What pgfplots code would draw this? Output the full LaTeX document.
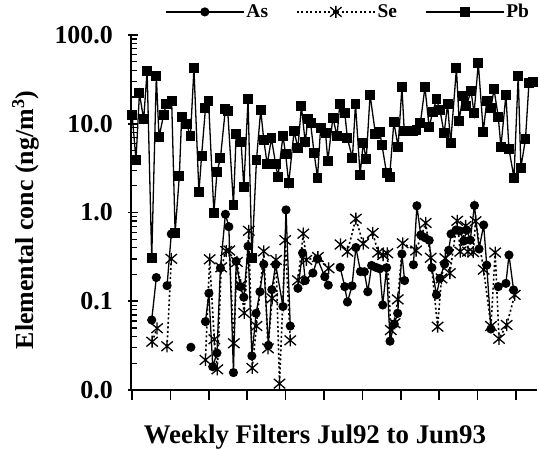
\documentclass[border=0pt]{standalone}
\usepackage{fontspec}
\setmainfont{Liberation Serif}
\usepackage{pgfplots}
\pgfplotsset{compat=1.18}
\pgfdeclareplotmark{xstar}{%
  \pgfpathmoveto{\pgfqpoint{0pt}{-\pgfplotmarksize}}%
  \pgfpathlineto{\pgfqpoint{0pt}{\pgfplotmarksize}}%
  \pgfpathmoveto{\pgfqpoint{-0.95\pgfplotmarksize}{-0.8\pgfplotmarksize}}%
  \pgfpathlineto{\pgfqpoint{0.95\pgfplotmarksize}{0.8\pgfplotmarksize}}%
  \pgfpathmoveto{\pgfqpoint{-0.95\pgfplotmarksize}{0.8\pgfplotmarksize}}%
  \pgfpathlineto{\pgfqpoint{0.95\pgfplotmarksize}{-0.8\pgfplotmarksize}}%
  \pgfusepathqstroke}
\begin{document}
\begin{tikzpicture}
\useasboundingbox (0,0) rectangle (539bp,449bp);
\begin{axis}[
  at={(131bp,59bp)}, anchor=south west,
  scale only axis, width=406bp, height=355bp,
  ymode=log, ymin=0.01, ymax=100, xmin=-0.3, xmax=105.5,
  axis x line*=bottom, axis y line*=left,
  axis line style={line width=2.2bp, black},
  xtick={0,10,...,100}, xticklabels={},
  ytick={0.01,0.1,1,10,100},
  yticklabels={0.0,0.1,1.0,10.0,100.0},
  tick align=inside,
  major tick length=10bp, minor tick length=6bp,
  every major x tick/.append style={yshift=-10bp, line width=1.6bp, black},
  every major y tick/.append style={xshift=-3bp, line width=1.6bp, black},
  every minor y tick/.append style={line width=1.2bp, black},
  yticklabel style={font=\bfseries\fontsize{26}{30}\selectfont, inner sep=0pt, xshift=-18bp},
  ylabel={Elemental conc (ng/m\textsuperscript{3})},
  ylabel style={font=\bfseries\fontsize{26}{30}\selectfont, at={(axis description cs:-0.26,0.479)}, anchor=center},
  xlabel={Weekly Filters Jul92 to Jun93},
  xlabel style={font=\bfseries\fontsize{27}{32}\selectfont, at={(axis description cs:0.453,-0.133)}, anchor=center},
  unbounded coords=jump,
  legend columns=3,
  legend style={draw=none, fill=none, inner sep=0pt, at={(axis description cs:0.0788,1.065)}, anchor=west, xshift=2bp,
    font=\bfseries\fontsize{19.5}{22}\selectfont,
    /tikz/every even column/.append style={column sep=26bp}},
  legend image code/.code={\draw[mark repeat=2,mark phase=2] plot coordinates {(0bp,0bp) (39bp,0bp) (78bp,0bp)};},
]
\addplot[black, line width=1.3bp, mark=*, mark size=3.9bp] coordinates {
(5.1,0.0615) (6.3,0.185) (7.5,nan) (9.1,0.150) (10.2,0.573) (12,nan) (15.3,0.0303) (17,nan)
(19.1,0.0589) (20.0,0.123) (21.0,0.0183) (22.1,0.0261) (23.0,0.237) (24.3,0.955) (25.2,0.692)
(26.4,0.0157) (27.1,0.282) (28.2,0.146) (29.1,0.111) (30.2,0.416) (31.2,0.0242) (32.3,0.0731)
(33.3,0.128) (34.3,0.261) (35.5,0.0319) (36.4,0.135) (37.4,0.259) (39.3,0.0873) (40.1,1.07)
(41.2,0.0526) (42,nan) (43.2,0.140) (44.4,0.350) (45.1,0.171) (47.1,0.208) (48.3,0.301)
(50.2,0.189) (51.1,0.152) (52,nan) (54.2,0.241) (55.4,0.146) (56.1,0.0981) (57.3,0.149)
(58.3,0.403) (59.5,0.216) (60.5,0.215) (61.4,0.128) (62.4,0.253) (63.5,0.241) (64.5,0.232)
(65.3,0.0908) (66.3,0.239) (67.2,0.0355) (68.3,0.0554) (69.2,0.0731) (70.3,0.341) (71.0,0.171)
(72,nan) (73.3,0.258) (74.2,1.19) (75.2,0.558) (76.3,0.52) (77.4,0.486) (78.1,0.239) (79.3,0.118)
(80.2,0.181) (81.4,0.262) (82.5,0.375) (83.1,0.573) (84.4,0.635) (85.4,0.620) (86.4,0.477)
(87.2,0.635) (88.1,0.488) (89.2,1.20) (90.4,0.388) (91.6,0.723) (92.4,0.255) (93.5,0.0487)
(94.5,nan) (95.4,0.146) (97.4,0.159) (98.2,0.332) (99.4,0.134)
};
\addlegendentry{As}
\addplot[black, line width=1.6bp, dash pattern=on 2bp off 2.5bp, mark=xstar, mark size=6bp, mark options={solid, line width=1.3bp}] coordinates {
(5.2,0.035) (6.5,0.0496) (7.5,nan) (9.1,0.0311) (10.2,0.301) (12,nan) (19.1,0.0218) (20.2,0.297)
(21.4,0.0373) (22.2,0.0171) (23.2,0.241) (24.5,0.368) (25.3,0.373) (26.5,0.0336) (27.3,0.277)
(28.3,0.152) (29.2,0.0738) (30.4,0.622) (31.3,0.0177) (32.4,0.0526) (34.3,0.365) (35.4,0.0295)
(36.5,0.108) (37.5,0.292) (38.4,0.0118) (39.9,0.488) (41.2,0.0363) (42,nan) (43.2,0.172)
(44.6,0.577) (45.4,0.292) (48.4,0.315) (51.2,0.235) (52,nan) (54.3,0.436) (56.1,0.362)
(58.3,0.851) (60.2,0.445) (62.7,0.588) (64.1,0.354) (65.4,0.332) (66.5,0.347) (67.4,0.0474)
(68.4,0.0565) (69.2,0.105) (70.5,0.450) (74.0,0.373) (76.5,0.762) (77.8,0.309) (79.6,0.0517)
(80.6,0.181) (81.6,0.305) (82.8,0.207) (84.7,0.806) (85.5,0.362) (86.9,0.705) (87.5,0.362)
(88.9,0.357) (89.5,0.798) (91.6,0.227) (93.5,0.0526) (94.6,0.354) (95.6,0.0378) (97.6,0.054)
(99.7,0.118)
};
\addlegendentry{Se}
\addplot[black, line width=1.3bp, mark=square*, mark size=4.3bp] coordinates {
(0.0,12.6) (1.0,3.91) (1.9,22) (3.0,11.2) (3.9,39.6) (5.1,0.305) (6.3,34.8) (7.0,7.04) (8.2,12.6)
(8.9,16.7) (10.3,18) (11.2,0.59) (12.3,2.6) (12.9,12.0) (14.2,9.86) (15.2,7.28) (16.1,42) (17.4,1.69)
(18.1,4.37) (19.1,14.9) (19.9,18.2) (21.3,0.995) (22.1,2.84) (23.0,4.08) (24.3,14.7) (24.9,14.0)
(26.4,1.22) (27.1,7.6) (28.4,6.18) (29.1,1.92) (30.2,18.8) (31.2,0.305) (32.4,3.91) (33.5,14.3)
(34.3,6.56) (35.2,3.49) (36.3,6.85) (37.4,3.49) (38.0,2.53) (39.3,7.28) (40.0,4.53) (40.8,2.13)
(42.2,8.28) (43.2,5.29) (44.1,15.8) (45.1,6.18) (45.8,11.2) (46.5,10.1) (47.4,4.72) (48.3,2.47)
(49.1,8.89) (50.4,7.8) (51.0,3.8) (52.3,11.7) (53.4,7.28) (54.1,16.7) (55.4,13.3) (56.1,6.85)
(57.4,4.08) (58.2,16.7) (59.4,2.65) (60.2,6.02) (61.0,3.98) (62.0,21.1) (63.4,7.66) (64.5,8.13)
(65.1,5.77) (66.3,2.77) (67.1,2.53) (68.2,10.4) (69.3,5.51) (70.3,25.8) (70.9,8.35) (71.9,8.35)
(73.1,8.35) (74.1,8.51) (75.1,10.1) (76.3,25.8) (77.4,9.12) (78.3,13.5) (79.3,18.8) (80.2,14.3)
(81.3,7.8) (82.2,16.7) (83.0,6.02) (84.5,42) (85.2,10.8) (86.2,20.5) (87.1,15.8) (88.3,23.6)
(89.1,13.1) (90.2,48) (91.5,8.13) (92.4,18) (93.5,15.2) (94.3,24.4) (95.4,12.0) (96.1,5.51)
(97.4,21.1) (98.2,5.15) (99.5,2.47) (100.6,34.8) (101.3,3.2) (102.5,6.73) (103.4,28.6) (104.5,29.8)
};
\addlegendentry{Pb}
\end{axis}
\end{tikzpicture}
\end{document}
